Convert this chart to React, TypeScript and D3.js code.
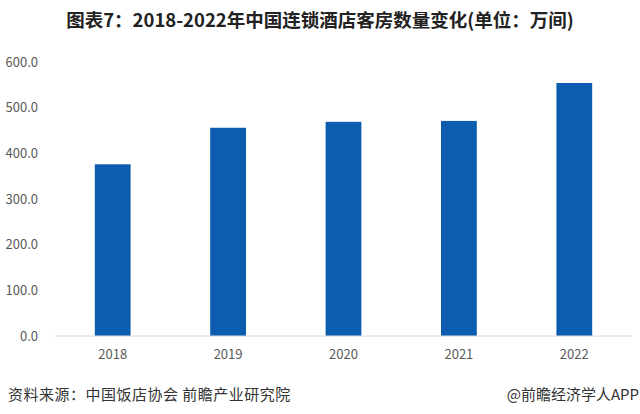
import React from "react";
import * as d3 from "d3";

const years = ["2018", "2019", "2020", "2021", "2022"];
const rooms = [376, 456, 469, 471, 554];
const yTicks = [0, 100, 200, 300, 400, 500, 600];
const titleText = "图表7：2018-2022年中国连锁酒店客房数量变化(单位：万间)";
const sourceText = "资料来源：中国饭店协会 前瞻产业研究院";
const brandText = "@前瞻经济学人APP";

const W = 640;
const H = 414;
const margin = { left: 55, right: 8, top: 62, bottom: 78 };

export default function App() {
  const x = d3
    .scaleBand<string>()
    .domain(years)
    .range([margin.left, W - margin.right])
    .paddingInner(0.69)
    .paddingOuter(0.345);
  const y = d3.scaleLinear().domain([0, 600]).range([H - margin.bottom, margin.top]);
  const font = "'Noto Sans CJK SC', 'Noto Sans', sans-serif";

  return (
    <svg
      width={W}
      height={H}
      style={{ position: "absolute", left: 0, top: 0, background: "#fff" }}
      fontFamily={font}
    >
      <rect x={0} y={0} width={W} height={H} fill="#fff" />
      <text
        x={320}
        y={27}
        textAnchor="middle"
        fontSize={18.5}
        fontWeight="bold"
        fill="#222"
      >
        {titleText}
      </text>
      {yTicks.map((t) => (
        <text
          key={t}
          x={38}
          y={y(t)}
          dy="0.35em"
          textAnchor="end"
          fontSize={13}
          fill="#595959"
        >
          {t.toFixed(1)}
        </text>
      ))}
      {years.map((yr, i) => (
        <rect
          key={yr}
          x={x(yr)}
          y={y(rooms[i])}
          width={x.bandwidth()}
          height={y(0) - y(rooms[i])}
          fill="#0c5daf"
        />
      ))}
      <line
        x1={margin.left}
        x2={W - margin.right}
        y1={y(0)}
        y2={y(0)}
        stroke="#d9d9d9"
        strokeWidth={1.2}
      />
      {years.map((yr) => (
        <text
          key={yr}
          x={(x(yr) as number) + x.bandwidth() / 2}
          y={354}
          dy="0.35em"
          textAnchor="middle"
          fontSize={13}
          fill="#595959"
        >
          {yr}
        </text>
      ))}
      <text x={8} y={400} fontSize={15} letterSpacing={0.5} fill="#333">
        {sourceText}
      </text>
      <text x={639} y={400} textAnchor="end" fontSize={15} fill="#333">
        {brandText}
      </text>
    </svg>
  );
}
